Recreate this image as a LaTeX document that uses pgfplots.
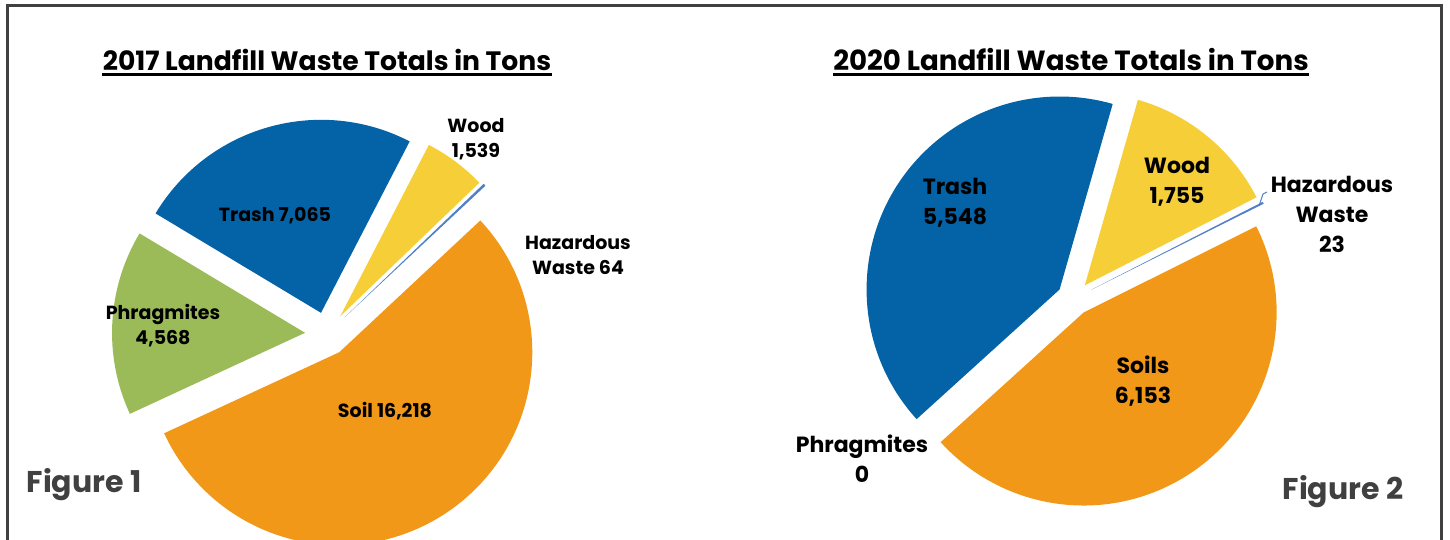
\documentclass[border=0pt]{standalone}
\usepackage{pgfplots}
\pgfplotsset{compat=1.18}
\usepackage{pgfplotstable}
\usetikzlibrary{calc}
\usepackage{fontspec}
\setmainfont{Poppins}

\definecolor{trashblue}{RGB}{4,98,166}
\definecolor{woodyellow}{RGB}{246,207,56}
\definecolor{hazblue}{RGB}{80,128,200}
\definecolor{soilorange}{RGB}{242,152,24}
\definecolor{phragreen}{RGB}{155,187,89}
\definecolor{framegray}{RGB}{64,64,64}

% tons per material, in the clockwise order of the slices
\pgfplotstableread{
name value
Trash 7065
Wood 1539
Hazardous 64
Soil 16218
Phragmites 4568
}\tonsA
\pgfplotstableread{
name value
Trash 5548
Wood 1755
Hazardous 23
Soils 6153
Phragmites 0
}\tonsB

% start/end angle of every slice: \<prefix>s<row>, \<prefix>e<row>
\newcommand\buildpie[3]{%
  \gdef\pieSum{0}%
  \pgfplotstableforeachcolumnelement{value}\of#1\as\cell{%
    \xdef\pieSum{\fpeval{\pieSum+\cell}}}%
  \xdef\pieAng{#3}%
  \pgfplotstableforeachcolumnelement{value}\of#1\as\cell{%
    \expandafter\xdef\csname #2s\pgfplotstablerow\endcsname{\pieAng}%
    \xdef\pieAng{\fpeval{round(\pieAng-360*\cell/\pieSum,4)}}%
    \expandafter\xdef\csname #2e\pgfplotstablerow\endcsname{\pieAng}}%
}
\buildpie{\tonsA}{A}{149}
\buildpie{\tonsB}{B}{222.2}

\def\R{96.5pt}
% centre x, centre y (axis units), start, end, explode, colour
\newcommand\slice[6]{%
  \fill[#6] ($(axis cs:#1,#2)+({(#3+#4)/2}:#5)$) -- ++(#3:\R)
    arc[start angle=#3, end angle=#4, radius=\R] -- cycle;}
\newcommand\pslice[6]{%
  \edef\tmp{\noexpand\slice{#3}{#4}{\csname #1s#2\endcsname}{\csname #1e#2\endcsname}{#5}{#6}}\tmp}

\tikzset{
  lblA/.style={inner sep=0pt, align=center, font=\fontsize{9.5}{12.5}\selectfont\bfseries},
  lblB/.style={inner sep=0pt, align=center, font=\fontsize{11}{15}\selectfont\bfseries},
  ttl/.style={inner sep=0pt, anchor=base, font=\fontsize{#1}{16}\selectfont\bfseries},
  fig/.style={inner sep=0pt, text=framegray, font=\fontsize{15}{18}\selectfont\bfseries}}

\begin{document}
\begin{tikzpicture}
\begin{axis}[name=ax, at={(0,0)}, anchor=south west,
    width=725pt, height=270pt, scale only axis,
    xmin=0, xmax=1450, ymin=0, ymax=540, hide axis]
% 2017
\pslice{A}{0}{327}{206}{11pt}{trashblue}
\pslice{A}{1}{327}{206}{11pt}{woodyellow}
\pslice{A}{2}{327}{206}{12pt}{hazblue}
\pslice{A}{3}{327}{206}{11pt}{soilorange}
\pslice{A}{4}{327}{206}{11pt}{phragreen}
% 2020
\pslice{B}{0}{1074}{241.5}{8.5pt}{trashblue}
\pslice{B}{1}{1074}{241.5}{8.5pt}{woodyellow}
\pslice{B}{2}{1074}{241.5}{9.5pt}{hazblue}
\pslice{B}{3}{1074}{241.5}{8.5pt}{soilorange}

\draw[framegray, line width=1.5pt] (axis cs:7,-20) -- (axis cs:7,534) -- (axis cs:1441,534) -- (axis cs:1441,-20);

\node[ttl=13.3] (t1) at (axis cs:327,469) {2017 Landfill Waste Totals in Tons};
\draw[line width=1.4pt] ([yshift=-1.8pt]t1.base west) -- ([yshift=-1.8pt]t1.base east);
\node[ttl=13.85] (t2) at (axis cs:1071,469) {2020 Landfill Waste Totals in Tons};
\draw[line width=1.4pt] ([yshift=-1.8pt]t2.base west) -- ([yshift=-1.8pt]t2.base east);

\node[lblA] at (axis cs:275,324) {Trash 7,065};
\node[lblA] at (axis cs:163,214.5) {Phragmites\\4,568};
\node[lblA] at (axis cs:476,400.5) {Wood\\1,539};
\node[lblA] at (axis cs:578,285) {Hazardous\\Waste 64};
\node[lblA] at (axis cs:385,129) {Soil 16,218};

\node[lblB] at (axis cs:955,337.5) {Trash\\5,548};
\node[lblB] at (axis cs:1177,358) {Wood\\1,755};
\node[lblB] at (axis cs:1332,326) {Hazardous\\Waste\\23};
\node[lblB] at (axis cs:862,81) {Phragmites\\0};
\node[lblB] at (axis cs:1143,158.5) {Soils\\6,153};
\draw[hazblue, line width=0.5pt] (axis cs:1259,334) -- (axis cs:1263,346) -- (axis cs:1267,348);

\node[fig] at (axis cs:84,55) {Figure 1};
\node[fig] at (axis cs:1343,48) {Figure 2};
\end{axis}
\pgfresetboundingbox
\useasboundingbox (0,0) rectangle (725pt,270pt);
\end{tikzpicture}
\end{document}
